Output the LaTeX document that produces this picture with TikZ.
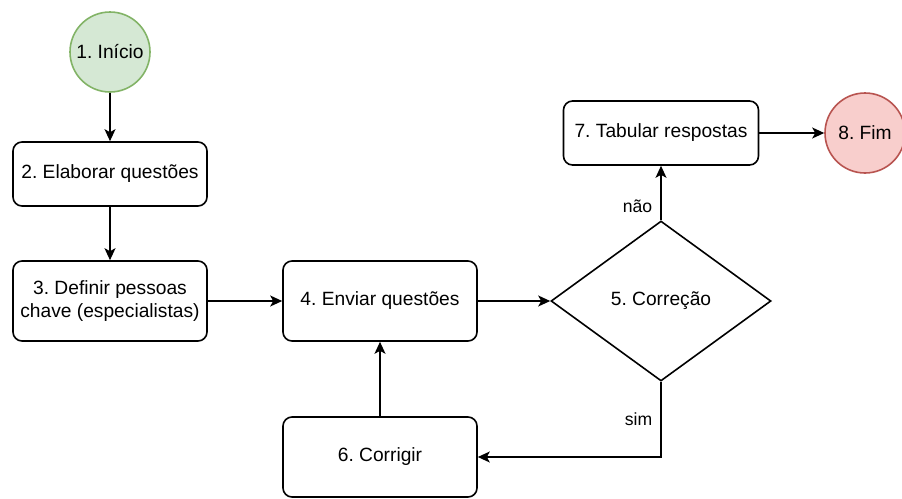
\documentclass[tikz,border=0pt]{standalone}
\usepackage{fontspec}
\setmainfont{Liberation Sans}
\frenchspacing
\definecolor{startgreen}{HTML}{D5E8D4}
\definecolor{startedge}{HTML}{82B366}
\definecolor{endred}{HTML}{F8CECC}
\definecolor{endedge}{HTML}{B85450}
\usetikzlibrary{shapes.geometric, arrows.meta, positioning}

\begin{document}
\begin{tikzpicture}[x=1pt, y=-1pt,
  font=\fontsize{19.2}{23}\selectfont,
  stepbox/.style={draw, line width=1.6pt, rounded corners=9pt, minimum width=194pt, align=center, inner sep=0pt},
  terminal/.style={circle, line width=1.6pt, minimum size=80pt, inner sep=0pt},
  decision/.style={diamond, draw, line width=1.6pt, minimum width=220pt, minimum height=160pt, inner sep=0pt},
  flow/.style={line width=1.6pt, -{Stealth[length=12pt, width=11pt, inset=3pt]}},
  lbl/.style={font=\fontsize{17.6}{20}\selectfont, inner sep=1pt}]
\useasboundingbox (0,0) rectangle (902,498);
% nodes
\node[terminal, draw=startedge, fill=startgreen] (inicio) at (110,52) {1. Início};
\node[stepbox, minimum height=64pt] (elaborar) at (110,174) {2. Elaborar questões};
\node[stepbox, minimum height=80pt] (pessoas) at (110,301) {3. Definir pessoas\\chave (especialistas)};
\node[stepbox, minimum height=80pt] (enviar) at (380,301) {4. Enviar questões};
\node[decision] (correcao) at (661,301) {5. Correção};
\node[stepbox, minimum height=80pt] (corrigir) at (380,457) {6. Corrigir};
\node[stepbox, minimum width=195pt, minimum height=64pt] (tabular) at (661,133) {7. Tabular respostas};
\node[terminal, draw=endedge, fill=endred] (fim) at (865,133) {8. Fim};
% connectors
\draw[flow] (inicio) -- (elaborar);
\draw[flow] (elaborar) -- (pessoas);
\draw[flow] (pessoas) -- (enviar);
\draw[flow] (enviar) -- (correcao);
\draw[flow] (correcao.north) -- node[lbl, pos=0.25, left=7pt] {não} (tabular.south);
\draw[flow] (correcao.south) |- node[lbl, pos=0.25, left=7pt] {sim} (corrigir.east);
\draw[flow] (corrigir) -- (enviar);
\draw[flow] (tabular) -- (fim);
\end{tikzpicture}
\end{document}
